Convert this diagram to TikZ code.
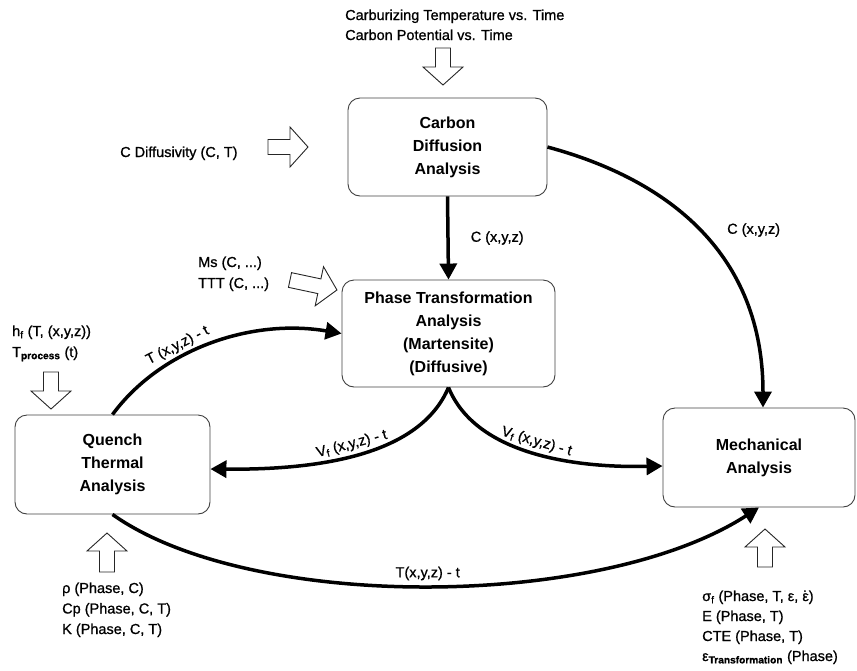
\documentclass[tikz,border=0pt]{standalone}
\usepackage{fontspec}
\setmainfont{Liberation Sans}
\newfontfamily\lblfamily[FakeBold=0.9]{Liberation Sans}
\usetikzlibrary{arrows.meta}
\newcommand{\epsdot}{\leavevmode\setbox0\hbox{ε}\hbox to\wd0{\hss ˙\hss}\kern-\wd0\box0}
\tikzset{
  pics/harrow/.style={code={
    \draw[hollow] (0,-7.5) -- ({#1-18},-7.5) -- ({#1-18},-20) -- (#1,0) -- ({#1-18},20) -- ({#1-18},7.5) -- (0,7.5) -- cycle;
  }}
}
\begin{document}
\begin{tikzpicture}[x=1pt,y=-1pt,
  box/.style={draw=black!75, line width=0.9pt, rounded corners=12pt, align=center,
    font=\fontsize{16}{23}\selectfont\bfseries, inner sep=0pt},
  lbl/.style={font=\lblfamily\fontsize{14.5}{20}\selectfont, inner sep=0pt},
  heavy/.style={line width=3.5pt, -{Triangle[length=16pt,width=17pt]}},
  hollow/.style={draw=black!85, line width=0.9pt, fill=white, line join=miter}
]
\useasboundingbox (0,0) rectangle (857,670);

% boxes
\node[box, minimum width=199pt, minimum height=98pt] (carbon) at (447.5,147) {Carbon\\Diffusion\\Analysis};
\node[box, minimum width=213pt, minimum height=107pt] (phase) at (448.5,333.5) {Phase Transformation\\Analysis\\(Martensite)\\(Diffusive)};
\node[box, minimum width=195pt, minimum height=99pt] (quench) at (112.5,464.5) {Quench\\Thermal\\Analysis};
\node[box, minimum width=192pt, minimum height=99pt] (mech) at (759,457.5) {Mechanical\\Analysis};

% input labels
\node[lbl, anchor=base west] (carb1) at (345,20) {Carburizing Temperature vs. Time};
\node[lbl, anchor=base west] (carb2) at (345,40) {Carbon Potential vs. Time};
\node[lbl, anchor=base west] (cdiff) at (120,157) {C Diffusivity (C, T)};
\node[lbl, anchor=base west] (ms1) at (198,267) {Ms (C, ...)};
\node[lbl, anchor=base west] (ms2) at (198,288) {TTT (C, ...)};
\node[lbl, anchor=base west] (hf) at (12,336) {h\textsubscript{f} (T, (x,y,z))};
\node[lbl, anchor=base west] (tp) at (12,357) {T\textsubscript{\bfseries process} (t)};
\node[lbl, anchor=base west] (rho) at (62,593) {ρ (Phase, C)};
\node[lbl, anchor=base west] (cp) at (62,613.5) {Cp (Phase, C, T)};
\node[lbl, anchor=base west] (kk) at (62,634) {K (Phase, C, T)};
\node[lbl, anchor=base west] (sig) at (702,601) {σ\textsubscript{f} (Phase, T, ε, \epsdot)};
\node[lbl, anchor=base west] (ee) at (702,621) {E (Phase, T)};
\node[lbl, anchor=base west] (cte) at (702,641) {CTE (Phase, T)};
\node[lbl, anchor=base west] (eps) at (702,661) {ε\textsubscript{\bfseries Transformation} (Phase)};

% hollow arrows
\pic[rotate=-90] at (443,48) {harrow=37};
\pic at (268,147) {harrow=40};
\pic[rotate=-12] at (290,280) {harrow=48};
\pic[rotate=-90] at (51,372) {harrow=37};
\pic[rotate=90] at (107,572) {harrow=39};
\pic[rotate=90] at (765,567) {harrow=38};

% heavy connectors
\draw[heavy] (carbon.south) -- node[lbl, anchor=west, xshift=21pt] (lc1) {C (x,y,z)} (phase.north);
\draw[heavy] (carbon.east) .. controls (670,180) and (763,255) .. ([xshift=4pt]mech.north);
\node[lbl, anchor=west] (lc2) at (727,230) {C (x,y,z)};
\draw[heavy] (quench.north) .. controls (160,350) and (250,318) .. node[lbl, sloped, above, pos=0.38, yshift=3pt] (lt1) {T (x,y,z) - t} (phase.west);
\draw[heavy] (phase.south) .. controls (420,455) and (320,470) .. node[lbl, sloped, above, pos=0.52, yshift=3pt] (lv1) {V\textsubscript{f} (x,y,z) - t} ([yshift=-4.5pt]quench.east);
\draw[heavy] (phase.south) .. controls (476,455) and (576,468) .. node[lbl, sloped, above, pos=0.5, yshift=3pt] (lv2) {V\textsubscript{f} (x,y,z) - t} ([yshift=-8.5pt]mech.west);
\draw[heavy] (quench.south) .. controls (250,612) and (600,610) .. node[lbl, above, pos=0.5, yshift=4pt] (lt2) {T(x,y,z) - t} (mech.south);
\end{tikzpicture}
\end{document}
